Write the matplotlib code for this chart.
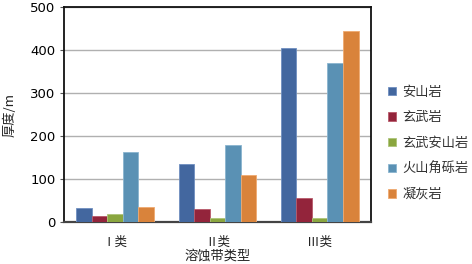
import numpy as np
import matplotlib.pyplot as plt

plt.rcParams['font.family'] = ['Noto Sans CJK SC', 'DejaVu Sans']

# categories and series
categories = ["Ⅰ类", "Ⅱ类", "Ⅲ类"]
rocks = ["安山岩", "玄武岩", "玄武安山岩", "火山角砾岩", "凝灰岩"]
andesite = [31, 134, 406]
basalt = [13, 30, 55]
basaltic_andesite = [18, 8, 8]
breccia = [163, 178, 370]
tuff = [34, 110, 444]
series = [andesite, basalt, basaltic_andesite, breccia, tuff]
colors = ["#43679f", "#93243b", "#8aa63f", "#5a91b4", "#d9833b"]
edges = ["#6f8fc0", "#b85a6a", "#adc479", "#8ab5cf", "#efaa70"]

fig = plt.figure(figsize=(4.72, 2.64), dpi=100)
ax = fig.add_axes([0.1356, 0.160, 0.650, 0.812])

x = np.arange(len(categories))
w = 0.152
for i, vals in enumerate(series):
    ax.bar(x + (i - 2) * w, vals, w, color=colors[i], edgecolor=edges[i],
           linewidth=0.6, label=rocks[i], zorder=3)

ax.set_xlim(-0.5, 2.5)
ax.set_ylim(0, 500)
ax.set_yticks([0, 100, 200, 300, 400, 500])
ax.yaxis.grid(True, color="#b0b0b0", linewidth=1.0, zorder=0)
ax.set_xticks(x)
ax.set_xticklabels(categories, fontsize=9, color="#222222")
ax.tick_params(axis="x", length=0, pad=10)
ax.tick_params(axis="y", length=3, width=0.8, labelsize=9.5, pad=3,
               color="#555555")
for lab in ax.get_yticklabels():
    lab.set_family("DejaVu Sans")

for s in ax.spines.values():
    s.set_color("#111111")
    s.set_linewidth(1.3)
ax.spines["bottom"].set_color("#444444")
ax.spines["bottom"].set_linewidth(1.6)

ax.set_xlabel("溶蚀带类型", fontsize=9.5, labelpad=1, color="#222222")
ax.set_ylabel("厚度/m", fontsize=9.5, labelpad=10, color="#222222")

ax.legend(loc="upper left", bbox_to_anchor=(0.81, 0.695),
          bbox_transform=fig.transFigure, frameon=False, fontsize=9.5,
          handlelength=0.6, handleheight=0.6, handletextpad=0.5,
          labelspacing=0.95, borderaxespad=0, labelcolor="#333333")

plt.savefig("out.png", dpi=100)
